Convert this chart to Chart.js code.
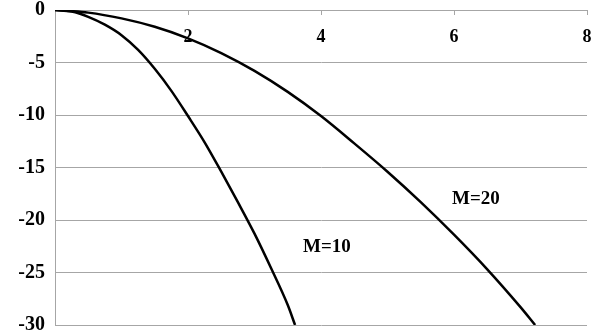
<!DOCTYPE html>
<html>
<head>
<meta charset="utf-8">
<script src="https://cdn.jsdelivr.net/npm/chart.js@4/dist/chart.umd.min.js"></script>
<style>
  html, body { margin: 0; padding: 0; background: #fff; }
  #wrap { width: 597px; height: 334px; }
</style>
</head>
<body>
<div id="wrap"><canvas id="chart"></canvas></div>
<script>
// values
const m10X = [0, 0.25, 0.5, 0.75, 1, 1.25, 1.5, 1.75, 2, 2.25, 2.5, 2.75, 3, 3.25, 3.5, 3.61];
const m10Y = [0, -0.15, -0.65, -1.4, -2.4, -3.8, -5.6, -7.7, -10.1, -12.6, -15.4, -18.3, -21.3, -24.6, -28.1, -30];
const m20X = [0, 0.5, 1, 1.5, 2, 2.5, 3, 3.5, 4, 4.5, 5, 5.5, 6, 6.5, 7, 7.22];
const m20Y = [0, -0.25, -0.8, -1.6, -2.7, -4.1, -5.8, -7.8, -10.1, -12.7, -15.4, -18.3, -21.4, -24.7, -28.3, -30];
const xTicks = [2, 4, 6, 8];
const curveLabels = ["M=10", "M=20"];
const labelAt = [[4.09, -22.6], [6.33, -18.0]];

const serif = "'Liberation Serif', 'Times New Roman', serif";
const gridColor = "#a6a6a6";

function toPoints(xs, ys) {
  return xs.map((x, i) => ({ x: x, y: ys[i] }));
}

// short tick marks hanging down from the top axis, plus the M= labels
const extras = {
  id: "extras",
  afterDraw(chart) {
    const ctx = chart.ctx;
    const xs = chart.scales.x;
    const ys = chart.scales.y;
    ctx.save();
    ctx.strokeStyle = gridColor;
    ctx.lineWidth = 1;
    xTicks.forEach((t) => {
      const px = Math.round(xs.getPixelForValue(t)) + 0.5;
      ctx.beginPath();
      ctx.moveTo(px, chart.chartArea.top);
      ctx.lineTo(px, chart.chartArea.top + 5);
      ctx.stroke();
    });
    ctx.fillStyle = "#000";
    ctx.font = "bold 19px " + serif;
    ctx.textAlign = "center";
    ctx.textBaseline = "middle";
    curveLabels.forEach((txt, i) => {
      ctx.fillText(txt, xs.getPixelForValue(labelAt[i][0]), ys.getPixelForValue(labelAt[i][1]));
    });
    ctx.restore();
  },
};

new Chart(document.getElementById("chart"), {
  type: "scatter",
  data: {
    datasets: [
      {
        label: curveLabels[0],
        data: toPoints(m10X, m10Y),
        showLine: true,
        borderColor: "#000",
        borderWidth: 2.5,
        pointRadius: 0,
        cubicInterpolationMode: "monotone",
      },
      {
        label: curveLabels[1],
        data: toPoints(m20X, m20Y),
        showLine: true,
        borderColor: "#000",
        borderWidth: 2.5,
        pointRadius: 0,
        cubicInterpolationMode: "monotone",
      },
    ],
  },
  options: {
    responsive: true,
    maintainAspectRatio: false,
    animation: false,
    layout: { padding: { left: 0, right: 10, top: 0, bottom: 9 } },
    plugins: {
      legend: { display: false },
      tooltip: { enabled: false },
    },
    scales: {
      x: {
        type: "linear",
        position: "top",
        min: 0,
        max: 8,
        afterBuildTicks: (scale) => {
          scale.ticks = xTicks.map((v) => ({ value: v }));
        },
        afterFit: (scale) => {
          scale.height = 10;
          scale.paddingLeft = 0;
          scale.paddingRight = 0;
        },
        grid: { drawOnChartArea: false, drawTicks: false },
        border: { display: true, color: gridColor, width: 1 },
        ticks: {
          mirror: true,
          padding: 17,
          color: "#000",
          font: { family: serif, size: 18, weight: "bold" },
        },
      },
      y: {
        min: -30,
        max: 0,
        afterFit: (scale) => {
          scale.width = 55;
          scale.paddingTop = 0;
          scale.paddingBottom = 0;
        },
        grid: { color: gridColor, lineWidth: 1, drawTicks: false },
        border: { display: true, color: gridColor, width: 1 },
        ticks: {
          stepSize: 5,
          padding: 10,
          color: "#000",
          font: { family: serif, size: 20, weight: "bold" },
        },
      },
    },
  },
  plugins: [extras],
});
</script>
</body>
</html>
